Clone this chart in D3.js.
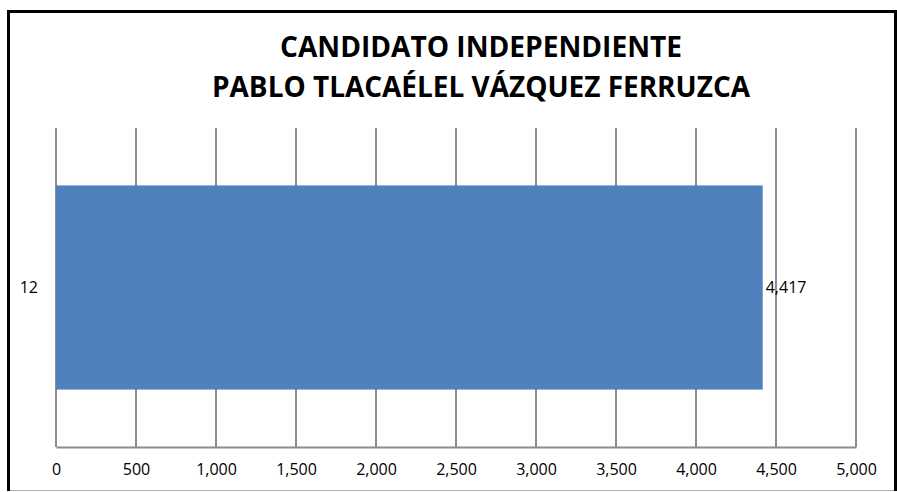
<!DOCTYPE html>
<html>
<head>
<meta charset="utf-8">
<script src="https://cdn.jsdelivr.net/npm/d3@7"></script>
<style>
  body { margin: 0; background: #fff; }
</style>
</head>
<body>
<div id="chart"></div>
<script>
var categories = ['12'];
var values = [4417];
var tickValues = [0, 500, 1000, 1500, 2000, 2500, 3000, 3500, 4000, 4500, 5000];
var titleLines = ['CANDIDATO INDEPENDIENTE', 'PABLO TLACAÉLEL VÁZQUEZ FERRUZCA'];

var w = 897, h = 492;
var font = "'Open Sans', sans-serif";
var gridColor = '#8c8c8c';

var svg = d3.select('#chart').append('svg')
  .attr('width', w)
  .attr('height', h);

// outer frame: light bottom edge, black on the other sides
svg.append('line')
  .attr('x1', 8).attr('x2', 896)
  .attr('y1', 490.5).attr('y2', 490.5)
  .attr('stroke', '#b0b0b0')
  .attr('stroke-width', 1);
svg.append('path')
  .attr('d', 'M8.5,491 L8.5,11.5 L895.5,11.5 L895.5,491')
  .attr('fill', 'none')
  .attr('stroke', 'black')
  .attr('stroke-width', 3);

// title
var titleWidths = [402, 538];
svg.selectAll('.title')
  .data(titleLines)
  .enter().append('text')
  .attr('class', 'title')
  .attr('x', 481)
  .attr('y', function(d, i) { return 57 + i * 39.5; })
  .attr('text-anchor', 'middle')
  .attr('font-family', font)
  .attr('font-weight', 'bold')
  .attr('font-size', 28.5)
  .attr('fill', '#000')
  .attr('textLength', function(d, i) { return titleWidths[i]; })
  .attr('lengthAdjust', 'spacingAndGlyphs')
  .text(function(d) { return d; });

var x = d3.scaleLinear().domain([0, 5000]).range([56, 856]);
var y = d3.scaleBand().domain(categories).range([128, 447]).paddingInner(0.36).paddingOuter(0.18);

// gridlines
svg.append('g')
  .selectAll('line')
  .data(tickValues)
  .enter().append('line')
  .attr('x1', function(d) { return x(d); })
  .attr('x2', function(d) { return x(d); })
  .attr('y1', 128)
  .attr('y2', 447)
  .attr('stroke', gridColor)
  .attr('stroke-width', 2);

// bottom axis
var xAxis = d3.axisBottom(x)
  .tickValues(tickValues)
  .tickSize(0)
  .tickPadding(17)
  .tickFormat(d3.format(','));

var gx = svg.append('g')
  .attr('transform', 'translate(0,447)')
  .call(xAxis);
gx.select('.domain').attr('stroke', gridColor).attr('stroke-width', 2);
gx.selectAll('text')
  .attr('font-family', font)
  .attr('font-size', 16)
  .attr('fill', '#000');

// bars
svg.selectAll('.bar')
  .data(values)
  .enter().append('rect')
  .attr('class', 'bar')
  .attr('x', x(0))
  .attr('y', function(d, i) { return y(categories[i]); })
  .attr('width', function(d) { return x(d) - x(0); })
  .attr('height', y.bandwidth())
  .attr('fill', '#4f81bd');

// category labels
svg.selectAll('.cat')
  .data(categories)
  .enter().append('text')
  .attr('class', 'cat')
  .attr('x', 38)
  .attr('y', function(d) { return y(d) + y.bandwidth() / 2; })
  .attr('dy', '0.35em')
  .attr('text-anchor', 'end')
  .attr('font-family', font)
  .attr('font-size', 16)
  .text(function(d) { return d; });

// value labels
svg.selectAll('.val')
  .data(values)
  .enter().append('text')
  .attr('class', 'val')
  .attr('x', function(d) { return x(d) + 3; })
  .attr('y', function(d, i) { return y(categories[i]) + y.bandwidth() / 2; })
  .attr('dy', '0.35em')
  .attr('font-family', font)
  .attr('font-size', 16)
  .text(function(d) { return d3.format(',')(d); });
</script>
</body>
</html>
